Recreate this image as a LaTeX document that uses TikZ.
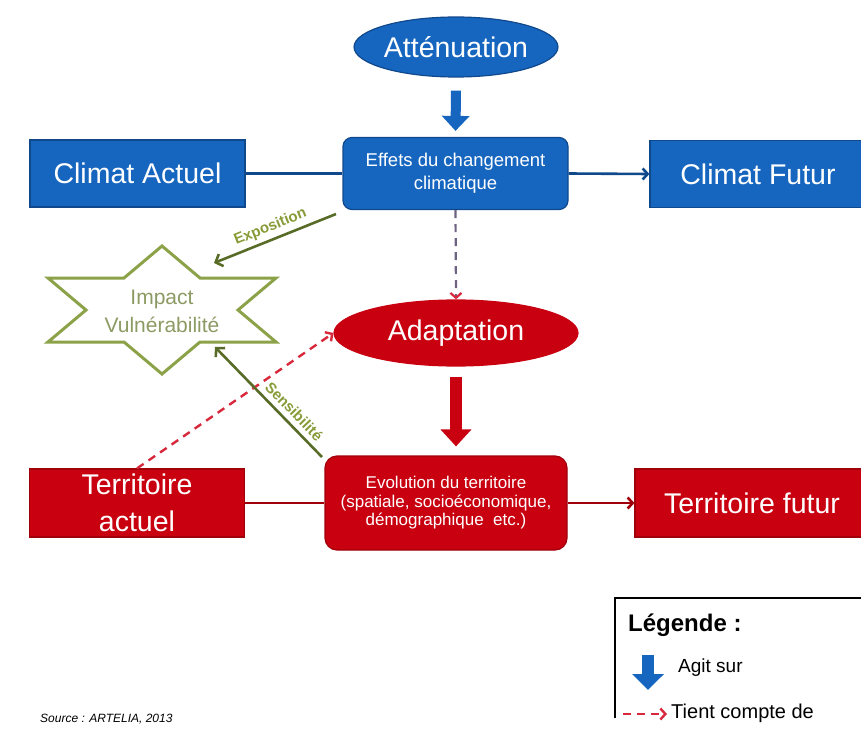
\documentclass[tikz,border=0pt]{standalone}
\usepackage{fontspec}
\setmainfont{Liberation Sans}
\usetikzlibrary{arrows.meta,shapes.geometric,calc}
\definecolor{cblue}{RGB}{22,102,192}
\definecolor{cblueD}{RGB}{16,72,140}
\definecolor{cred}{RGB}{200,0,15}
\definecolor{credD}{RGB}{160,0,10}
\definecolor{colive}{RGB}{140,162,72}
\definecolor{coliveD}{RGB}{88,108,40}
\definecolor{colabel}{RGB}{135,155,55}
\definecolor{cstartext}{RGB}{140,155,100}
\definecolor{cdash}{RGB}{215,40,60}
\definecolor{cgray}{RGB}{110,100,130}
\begin{document}
\begin{tikzpicture}[x=1pt,y=-1pt,
  bigfont/.style={font=\fontsize{28.5}{37}\selectfont},
  bluebox/.style={draw=cblueD, line width=1.2pt, fill=cblue, text=white, inner sep=0pt, align=center},
  redbox/.style={draw=credD, line width=1.2pt, fill=cred, text=white, inner sep=0pt, align=center},
  blueline/.style={draw=cblueD, line width=2.6pt},
  redline/.style={draw=credD, line width=2.6pt},
  barb/.style={-{Straight Barb[length=5pt,width=11pt]}},
  blockblue/.style={draw=cblue, line width=10pt, -{Triangle[width=27pt,length=15pt]}},
  blockred/.style={draw=cred, line width=12pt, -{Triangle[width=30pt,length=17pt]}},
  olivearrow/.style={draw=coliveD, line width=2.6pt, {Straight Barb[length=6pt,width=13pt]}-},
  dashred/.style={draw=cdash, line width=2.4pt, dash pattern=on 8pt off 6pt, -{Straight Barb[length=5pt,width=11pt]}},
  olabel/.style={text=colabel, font=\bfseries\fontsize{15}{17}\selectfont, inner sep=0pt}
]
\useasboundingbox (0,0) rectangle (861,730);

% top row (blue)
\node[bluebox, ellipse, minimum width=186pt, minimum height=60pt, bigfont] (att) at (456,47) {Atténuation};
\node[bluebox, minimum width=215pt, minimum height=67pt, bigfont] (ca) at (137.5,173.5) {Climat Actuel};
\node[bluebox, rounded corners=9pt, minimum width=225pt, minimum height=72pt,
      font=\fontsize{18.5}{23}\selectfont] (eff) at (455.5,173.5) {Effets du changement\\climatique};
\node[bluebox, minimum width=216pt, minimum height=67pt, bigfont] (cf) at (758,174) {Climat Futur};

% red row
\node[redbox, ellipse, minimum width=244pt, minimum height=66pt, bigfont, fill=cred, draw=cred] (ada) at (456,333) {Adaptation};
\node[redbox, minimum width=215pt, minimum height=68pt, font=\fontsize{28.5}{37}\selectfont] (ta) at (137,503) {Territoire\\actuel};
\node[redbox, rounded corners=12pt, minimum width=242pt, minimum height=94pt,
      font=\fontsize{17}{18.5}\selectfont] (evo) at (446,503) {Evolution du territoire\\(spatiale, socioéconomique,\\démographique\ \ etc.)};
\node[redbox, minimum width=234pt, minimum height=68pt, bigfont] (tf) at (752,503) {Territoire futur};

% star
\draw[colive, line width=3pt, fill=white, line join=miter]
  (162,246) -- (200,278) -- (276,278) -- (238,310) -- (276,342) -- (200,342) --
  (162,374) -- (124,342) -- (48,342) -- (86,310) -- (48,278) -- (124,278) -- cycle;
\node[text=cstartext, align=center, font=\fontsize{21}{28}\selectfont] (imp) at (162,311) {Impact\\Vulnérabilité};

% connectors
\draw[blueline] (ca.east) -- (eff.west);
\draw[blueline, barb] (eff.east) -- (cf.west);
\draw[redline] (ta.east) -- (evo.west);
\draw[redline, barb] (evo.east) -- (tf.west);

\draw[blockblue] ([yshift=-13pt]att.south) -- ([yshift=6pt]eff.north);
\draw[blockred] ([yshift=-10pt]ada.south) -- ([yshift=9pt]ada.south |- evo.north);

\draw[draw=cgray, line width=2.2pt, dash pattern=on 8pt off 6pt,
      -{Straight Barb[length=5pt,width=11pt,color=cdash]}] (eff.south) -- (ada.north);
\draw[dashred] (ta.north) -- (ada.west);

\coordinate (expT) at (214,263);
\coordinate (expS) at (336,214);
\coordinate (senT) at (215,347);
\coordinate (senS) at (322,457);
\draw[olivearrow] (expT) -- (expS) node[pos=0.5, sloped, above=4pt, olabel] {Exposition};
\draw[olivearrow] (senT) -- (senS) node[pos=0.66, sloped, above=5pt, olabel] {Sensibilité};

% legend
\draw[black, line width=1.5pt] (615,718) -- (615,598) -- (870,598);
\node[anchor=west, font=\bfseries\fontsize{24}{28}\selectfont, inner sep=0pt] (lgt) at (628,625) {Légende :};
\coordinate (lgA1) at (648,655);
\coordinate (lgA2) at (648,690);
\draw[draw=cblue, line width=12pt, -{Triangle[width=31pt,length=16pt]}] (lgA1) -- (lgA2);
\node[anchor=west, font=\fontsize{19}{22}\selectfont, inner sep=0pt] (lgb) at (678,668) {Agit sur};
\coordinate (lgD1) at (623,714);
\coordinate (lgD2) at (667,714);
\draw[dashred] (lgD1) -- (lgD2);
\node[anchor=west, font=\fontsize{20}{22}\selectfont, inner sep=0pt] (lgr) at (671,713) {Tient compte de};

% source
\node[anchor=west, font=\itshape\fontsize{12}{14}\selectfont, inner sep=0pt] (src) at (40,719) {Source : ARTELIA, 2013};
\end{tikzpicture}
\end{document}
